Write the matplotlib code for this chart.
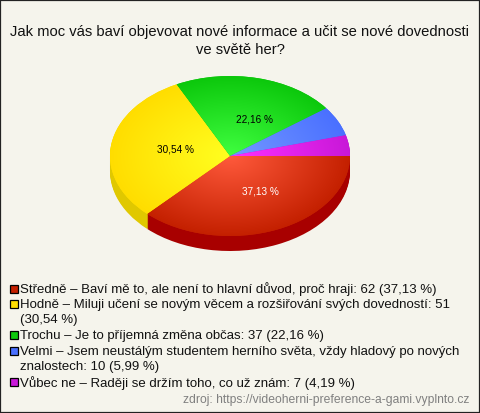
# -*- coding: utf-8 -*-
import textwrap
import numpy as np
import matplotlib
matplotlib.use("Agg")
import matplotlib.pyplot as plt
import matplotlib.colors as mcolors
from matplotlib.patches import Rectangle

plt.rcParams["font.family"] = ["Liberation Sans", "DejaVu Sans"]

# data
title = "Jak moc vás baví objevovat nové informace a učit se nové dovednosti\nve světě her?"
categories = [
    "Středně – Baví mě to, ale není to hlavní důvod, proč hraji",
    "Hodně – Miluji učení se novým věcem a rozšiřování svých dovedností",
    "Trochu – Je to příjemná změna občas",
    "Velmi – Jsem neustálým studentem herního světa, vždy hladový po nových znalostech",
    "Vůbec ne – Raději se držím toho, co už znám",
]
counts = [62, 51, 37, 10, 7]
percents = ["37,13", "30,54", "22,16", "5,99", "4,19"]
source = "zdroj: https://videoherni-preference-a-gami.vyplnto.cz"

# colours per slice
edge_colors = ["#c42000", "#ffdd00", "#0cc80c", "#4a70ff", "#c818d8"]
center_colors = ["#ff5a3c", "#ffff20", "#40ff40", "#7498ff", "#ff30ff"]
side_colors = ["#a80000", "#e0c800", "#0a9a0a", "#3050c0", "#9010a0"]
bg = "#f5f4ec"

W, H = 480, 413
fig = plt.figure(figsize=(W / 100, H / 100), dpi=100, facecolor=bg)


def px(x, y):
    # pixel position (y from the top) to figure fraction
    return x / W, 1 - y / H


# pie axes, unit ellipse stretched to the pixel box
cx, cy, rx, ry, depth = 230, 156, 120, 80, 15
ax = fig.add_axes([(cx - rx) / W, 1 - (cy + ry) / H, 2 * rx / W, 2 * ry / H])

# side wall: stack of dark pies going down
for off in np.linspace(depth / ry, 0, depth + 1)[:-1]:
    ax.pie(counts, colors=side_colors, startangle=0, counterclock=False,
           center=(0, -off), radius=1, frame=False,
           wedgeprops={"clip_on": False, "linewidth": 0})

# top face
wedges, _ = ax.pie(counts, colors=edge_colors, startangle=0, counterclock=False,
                   center=(0, 0), radius=1, frame=False,
                   wedgeprops={"clip_on": False, "linewidth": 0})

# radial gradient clipped to each slice
xx, yy = np.meshgrid(np.linspace(-1, 1, 480), np.linspace(-1, 1, 320))
rr = np.clip(np.hypot(xx, yy), 0, 1)[..., None]
for w, c0, c1 in zip(wedges, center_colors, edge_colors):
    a = np.array(mcolors.to_rgb(c0))
    b = np.array(mcolors.to_rgb(c1))
    img = ax.imshow(a * (1 - rr) + b * rr, extent=(-1, 1, -1, 1), origin="lower",
                    aspect="auto", interpolation="bilinear", zorder=2)
    img.set_clip_path(w)

ax.set_xlim(-1, 1)
ax.set_ylim(-1, 1)
ax.set_aspect("auto")
ax.axis("off")

# slice labels
label_pos = [(260.5, 192), (175.5, 149), (254.5, 119)]
label_colors = ["white", "black", "black"]
for p, (lx, ly), lc in zip(percents, label_pos, label_colors):
    fx, fy = px(lx, ly)
    fig.text(fx, fy, f"{p} %", color=lc, fontsize=7.2, ha="center", va="center", zorder=5)

# title
fx, fy = px(240, 41)
fig.text(fx, fy, title, fontsize=10.65, ha="center", va="center", color="#111111",
         linespacing=1.3)

# legend
y = 289
line_h = 15.1
for cat, n, p, fc in zip(categories, counts, percents, edge_colors):
    label = f"{cat}: {n} ({p} %)"
    fx, fy = px(9.5, y + 3.5)
    fig.add_artist(Rectangle((fx, fy), 8 / W, 8 / H, transform=fig.transFigure,
                             facecolor=fc, edgecolor="black", linewidth=0.9))
    lines = textwrap.wrap(label, width=74)
    for line in lines:
        fx, fy = px(20.3, y)
        fig.text(fx, fy, line, fontsize=9.55, ha="left", va="center", color="#111111")
        y += line_h
    y += 0.8

# source
fx, fy = px(469.5, 400.5)
fig.text(fx, fy, source, fontsize=8.7, ha="right", va="center", color="#808080")

# outer border
fig.add_artist(Rectangle((0, 0), 1, 1, transform=fig.transFigure, fill=False,
                         edgecolor="#222222", linewidth=1.6))

fig.savefig("out.png", dpi=100, facecolor=bg)
